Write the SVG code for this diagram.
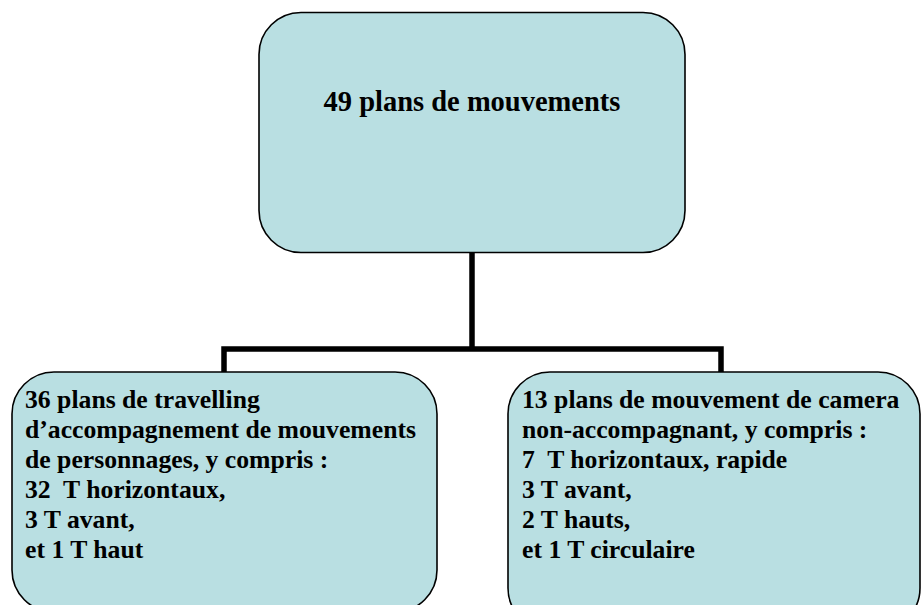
<svg xmlns="http://www.w3.org/2000/svg" width="921" height="605" viewBox="0 0 921 605">
<style>
.box{fill:#b9dfe2;stroke:#000;stroke-width:1.6}
.conn{fill:none;stroke:#000;stroke-width:5.5;stroke-linejoin:miter}
text{font-family:"Liberation Serif","Times New Roman",serif;font-weight:bold;fill:#000;white-space:pre}
.t1{font-size:28.5px}
.t2{font-size:25.7px}
</style>
<rect width="921" height="605" fill="#fff"/>
<g id="connectors">
<path class="conn" d="M472,253 V349"/>
<path class="conn" d="M224,372 V349 H721 V372"/>
</g>
<g id="root">
<rect class="box" x="259" y="12.5" width="426" height="240" rx="42" ry="42"/>
<text class="t1" x="472" y="111" text-anchor="middle">49 plans de mouvements</text>
</g>
<g id="left">
<rect class="box" x="12" y="372" width="425" height="240" rx="42" ry="42"/>
<text class="t2" xml:space="preserve"><tspan x="25" y="408">36 plans de travelling</tspan><tspan x="25" y="438">d’accompagnement de mouvements</tspan><tspan x="25" y="468">de personnages, y compris :</tspan><tspan x="25" y="498">32  T horizontaux,</tspan><tspan x="25" y="528">3 T avant,</tspan><tspan x="25" y="558">et 1 T haut</tspan></text>
</g>
<g id="right">
<rect class="box" x="508" y="372" width="412" height="258" rx="42" ry="42"/>
<text class="t2" xml:space="preserve"><tspan x="522" y="408">13 plans de mouvement de camera</tspan><tspan x="522" y="438">non-accompagnant, y compris :</tspan><tspan x="522" y="468">7  T horizontaux, rapide</tspan><tspan x="522" y="498">3 T avant,</tspan><tspan x="522" y="528">2 T hauts,</tspan><tspan x="522" y="558">et 1 T circulaire</tspan></text>
</g>
</svg>
